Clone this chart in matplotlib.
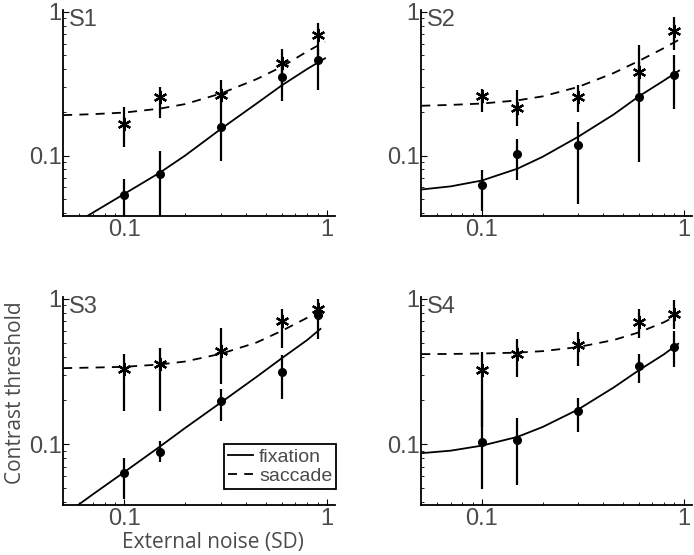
import matplotlib
matplotlib.use("Agg")
import matplotlib.pyplot as plt
from matplotlib.ticker import FixedLocator, LogLocator, NullFormatter

# external noise levels (SD)
noise = [0.1, 0.15, 0.3, 0.6, 0.9]

fit_x = [0.05, 0.07, 0.1, 0.15, 0.2, 0.3, 0.45, 0.6, 0.8, 0.95]

# --- S1 ---
s1_fix = [0.053, 0.074, 0.157, 0.35, 0.46]
s1_fix_lo = [0.030, 0.030, 0.091, 0.239, 0.286]
s1_fix_hi = [0.069, 0.107, 0.20, 0.42, 0.55]
s1_sac = [0.167, 0.257, 0.262, 0.443, 0.687]
s1_sac_lo = [0.115, 0.183, 0.20, 0.30, 0.50]
s1_sac_hi = [0.218, 0.301, 0.334, 0.555, 0.833]
s1_fitfix_y = [0.030, 0.040, 0.054, 0.076, 0.10, 0.153, 0.23, 0.308, 0.40, 0.475]
s1_fitsac_y = [0.191, 0.194, 0.199, 0.212, 0.228, 0.27, 0.34, 0.415, 0.53, 0.62]

# --- S2 ---
s2_fix = [0.062, 0.103, 0.118, 0.255, 0.362]
s2_fix_lo = [0.041, 0.068, 0.046, 0.09, 0.211]
s2_fix_hi = [0.079, 0.13, 0.17, 0.45, 0.50]
s2_sac = [0.259, 0.214, 0.255, 0.382, 0.73]
s2_sac_lo = [0.20, 0.161, 0.20, 0.26, 0.54]
s2_sac_hi = [0.29, 0.288, 0.311, 0.589, 0.92]
s2_fitfix_y = [0.058, 0.061, 0.067, 0.081, 0.098, 0.135, 0.193, 0.258, 0.333, 0.39]
s2_fitsac_y = [0.222, 0.225, 0.23, 0.242, 0.258, 0.30, 0.375, 0.455, 0.56, 0.64]

# --- S3 ---
s3_fix = [0.0627, 0.0887, 0.198, 0.311, 0.771]
s3_fix_lo = [0.042, 0.075, 0.145, 0.203, 0.53]
s3_fix_hi = [0.08, 0.105, 0.24, 0.41, 0.87]
s3_sac = [0.33, 0.355, 0.436, 0.706, 0.856]
s3_sac_lo = [0.17, 0.17, 0.257, 0.46, 0.72]
s3_sac_hi = [0.42, 0.455, 0.627, 0.856, 1.0]
s3_fitfix_y = [0.032, 0.045, 0.064, 0.096, 0.129, 0.193, 0.29, 0.39, 0.52, 0.62]
s3_fitsac_y = [0.333, 0.336, 0.34, 0.353, 0.37, 0.418, 0.50, 0.602, 0.74, 0.85]

# --- S4 ---
s4_fix = [0.1026, 0.106, 0.168, 0.347, 0.462]
s4_fix_lo = [0.049, 0.052, 0.121, 0.264, 0.34]
s4_fix_hi = [0.20, 0.151, 0.209, 0.42, 0.60]
s4_sac = [0.325, 0.414, 0.479, 0.689, 0.784]
s4_sac_lo = [0.13, 0.288, 0.347, 0.537, 0.62]
s4_sac_hi = [0.43, 0.525, 0.59, 0.847, 0.98]
s4_fitfix_y = [0.0865, 0.09, 0.0975, 0.112, 0.131, 0.173, 0.245, 0.322, 0.415, 0.49]
s4_fitsac_y = [0.416, 0.417, 0.42, 0.426, 0.436, 0.465, 0.52, 0.587, 0.69, 0.775]

# last x of each drawn curve (they stop just short of noise = 1)
fit_end = [0.98, 0.95, 0.93, 0.94]

subjects = ["S1", "S2", "S3", "S4"]
panels = [
    (s1_fix, s1_fix_lo, s1_fix_hi, s1_sac, s1_sac_lo, s1_sac_hi, s1_fitfix_y, s1_fitsac_y),
    (s2_fix, s2_fix_lo, s2_fix_hi, s2_sac, s2_sac_lo, s2_sac_hi, s2_fitfix_y, s2_fitsac_y),
    (s3_fix, s3_fix_lo, s3_fix_hi, s3_sac, s3_sac_lo, s3_sac_hi, s3_fitfix_y, s3_fitsac_y),
    (s4_fix, s4_fix_lo, s4_fix_hi, s4_sac, s4_sac_lo, s4_sac_hi, s4_fitfix_y, s4_fitsac_y),
]

TICK_FONT = "Liberation Sans"
LABEL_FONT = "Open Sans"
GREY = "#4a4a4a"
DASH = (0, (5, 4))

# axes rectangles in figure fractions: [left, bottom, width, height]
rects = [
    [0.091, 0.611, 0.392, 0.371],
    [0.607, 0.611, 0.390, 0.371],
    [0.091, 0.090, 0.392, 0.375],
    [0.607, 0.090, 0.390, 0.375],
]

fig = plt.figure(figsize=(6.94, 5.55), dpi=100)

axes = []
for rect, name, data, xend in zip(rects, subjects, panels, fit_end):
    fix, fix_lo, fix_hi, sac, sac_lo, sac_hi, ffy, fsy = data
    fx = fit_x[:-1] + [xend]
    ax = fig.add_axes(rect)
    axes.append(ax)
    ax.set_xscale("log")
    ax.set_yscale("log")

    # error bars
    ax.vlines(noise, fix_lo, fix_hi, colors="k", lw=1.6, zorder=2)
    ax.vlines(noise, sac_lo, sac_hi, colors="k", lw=1.6, zorder=2)

    # model fits
    ax.plot(fx, ffy, color="k", lw=1.3, zorder=3, label="fixation")
    ax.plot(fx, fsy, color="k", lw=1.3, ls=DASH, zorder=3, label="saccade")

    # data points
    ax.plot(noise, fix, "o", color="k", ms=5.5, zorder=4)
    ax.plot(noise, sac, ls="none", marker=(6, 2, 0), color="k",
            ms=9.5, mew=1.6, zorder=4)

    ax.set_xlim(0.05, 1.1)
    ax.set_ylim(0.038, 1.03)
    for side in ("top", "right"):
        ax.spines[side].set_visible(False)
    for side in ("left", "bottom"):
        ax.spines[side].set_linewidth(1.3)

    ax.xaxis.set_major_locator(FixedLocator([0.1, 1]))
    ax.yaxis.set_major_locator(FixedLocator([0.1, 1]))
    ax.set_xticklabels(["0.1", "1"])
    ax.set_yticklabels(["0.1", "1"])
    ax.xaxis.set_minor_locator(LogLocator(base=10, subs=range(2, 10)))
    ax.yaxis.set_minor_locator(LogLocator(base=10, subs=range(2, 10)))
    ax.xaxis.set_minor_formatter(NullFormatter())
    ax.yaxis.set_minor_formatter(NullFormatter())
    ax.tick_params(which="major", direction="in", length=4, width=0.8,
                   labelsize=17, labelcolor=GREY, pad=2)
    ax.tick_params(which="minor", direction="in", length=2, width=0.6)
    ax.tick_params(axis="y", which="major", pad=1)
    for lab in ax.get_xticklabels() + ax.get_yticklabels():
        lab.set_fontfamily(TICK_FONT)

    ax.text(0.02, 1.005, name, transform=ax.transAxes, ha="left", va="top",
            fontsize=17, color=GREY, family=TICK_FONT)

leg = axes[2].legend(loc="lower right", bbox_to_anchor=(1.004, 0.077),
                     prop={"family": TICK_FONT, "size": 14},
                     handlelength=1.3, handletextpad=0.3, labelspacing=0.1,
                     borderpad=0.2, borderaxespad=0.0, fancybox=False,
                     framealpha=1)
leg.get_frame().set_edgecolor("k")
leg.get_frame().set_linewidth(1.3)
for t in leg.get_texts():
    t.set_color(GREY)

fig.text(0.307, 0.023, "External noise (SD)", ha="center", va="center",
         fontsize=15, color=GREY, family=LABEL_FONT)
fig.text(0.022, 0.292, "Contrast threshold", ha="center", va="center",
         rotation=90, fontsize=15, color=GREY, family=LABEL_FONT)

fig.savefig("out.png", dpi=100)
